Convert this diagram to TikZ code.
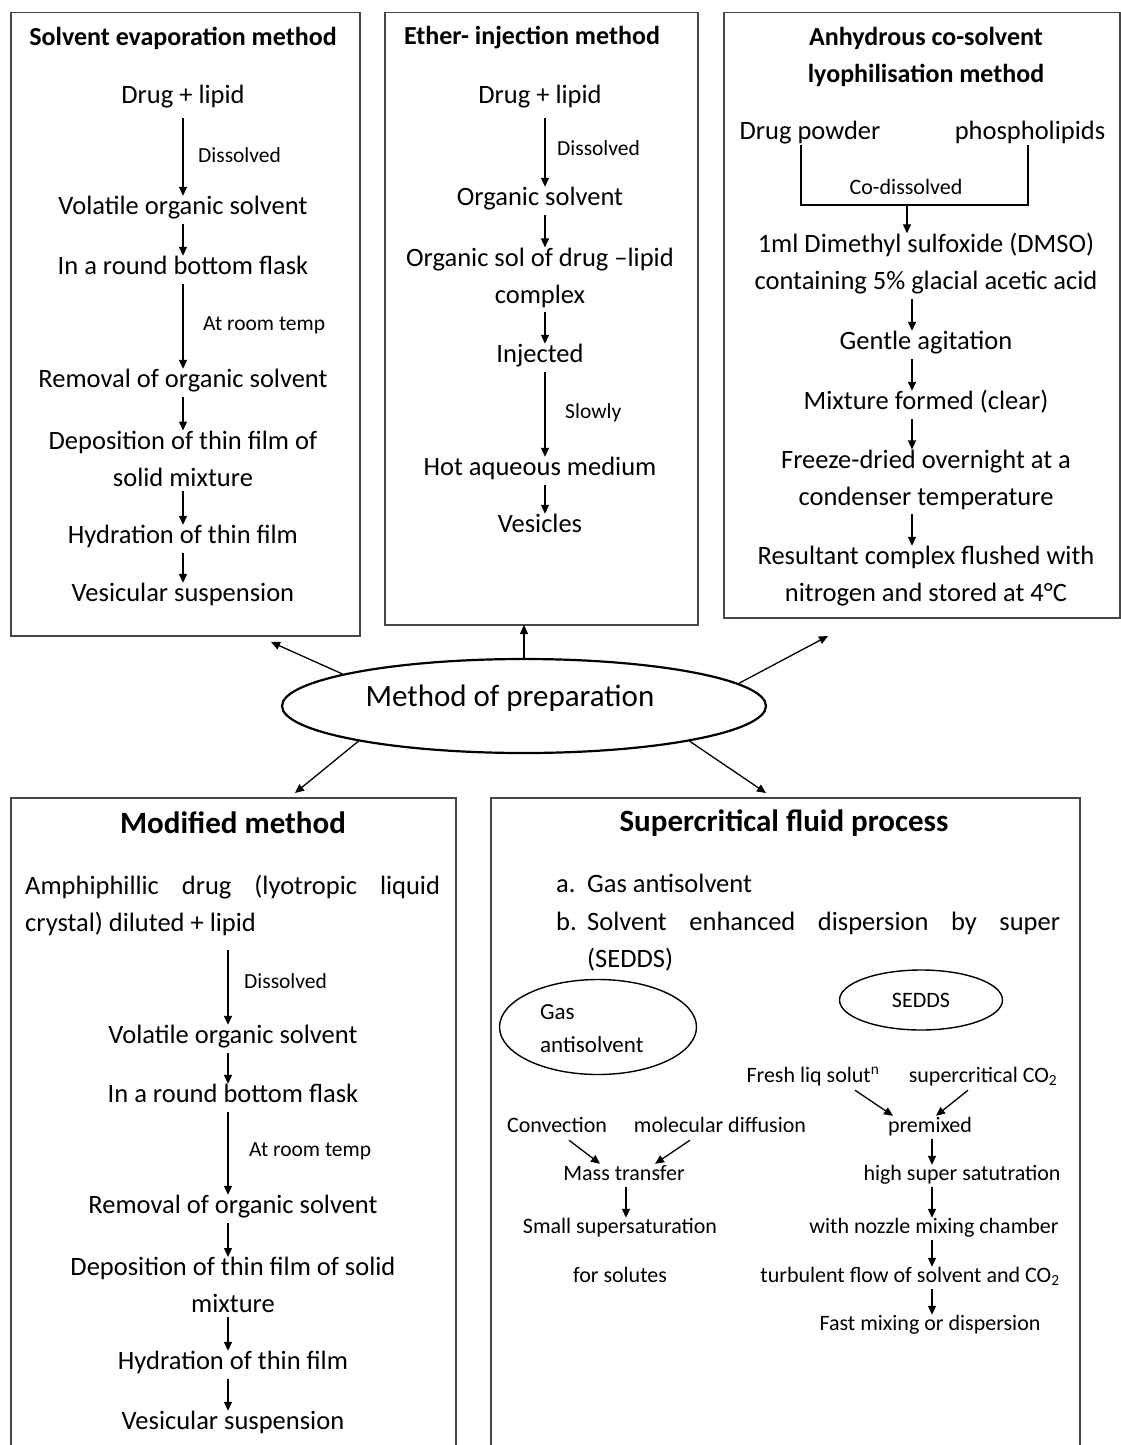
\documentclass[tikz,border=0pt]{standalone}
\usepackage{fontspec}
\setmainfont{Carlito}
\usetikzlibrary{arrows.meta,shapes.geometric,calc}
\begin{document}
\begin{tikzpicture}[x=1pt,y=-1pt,
 box/.style={draw=black!72,line width=1.5pt,inner sep=0pt,anchor=north west},
 tx/.style={font=\fontsize{26.5}{37}\selectfont,inner sep=0pt,text height=18pt,text depth=6pt},
 tx2/.style={font=\fontsize{26.5}{37}\selectfont,inner sep=0pt,align=center},
 ttl/.style={font=\bfseries\fontsize{26}{37}\selectfont,inner sep=0pt,align=center},
 big/.style={font=\bfseries\fontsize{31}{36}\selectfont,inner sep=0pt},
 lbl/.style={font=\fontsize{21.5}{26}\selectfont,inner sep=0pt,anchor=west},
 sm/.style={font=\fontsize{22}{26}\selectfont,inner sep=0pt,text height=15pt,text depth=5pt},
 arr/.style={-{Triangle[length=9pt,width=8pt]},line width=1.3pt,shorten <=4pt},
 oval/.style={draw,ellipse,inner sep=0pt},
]
\useasboundingbox (0,0) rectangle (1121,1445);
\fill[white] (0,0) rectangle (1121,1445);

% ---------- boxes ----------
\node[box,minimum width=349,minimum height=623] (B1) at (10,12) {};
\node[box,minimum width=313,minimum height=612] (B2) at (384,12) {};
\node[box,minimum width=396,minimum height=605] (B3) at (723,12) {};
\node[box,minimum width=445,minimum height=680] (B4) at (10,797) {};
\node[box,minimum width=589,minimum height=680] (B5) at (490,797) {};

% ---------- Solvent evaporation ----------
\coordinate (X1) at (183,0);
\node[ttl] (t1) at (183,38) {Solvent evaporation method};
\node[tx] (a1) at (183,97) {Drug + lipid};
\node[lbl] (l1) at (198,155) {Dissolved};
\node[tx] (a2) at (183,208) {Volatile organic solvent};
\node[tx] (a3) at (183,268) {In a round bottom flask};
\node[lbl] (l2) at (203,325) {At room temp};
\node[tx] (a4) at (183,381) {Removal of organic solvent};
\node[tx2] (a5) at (183,458.5) {Deposition of thin film of\\solid mixture};
\node[tx] (a6) at (183,537) {Hydration of thin film};
\node[tx] (a7) at (183,595) {Vesicular suspension};
\draw[arr,shorten <=9pt] (a1.south -| X1) -- (a2.north -| X1);
\draw[arr] (a2.south -| X1) -- (a3.north -| X1);
\draw[arr] (a3.south -| X1) -- (a4.north -| X1);
\draw[arr] (a4.south -| X1) -- (a5.north -| X1);
\draw[arr] (a5.south -| X1) -- (a6.north -| X1);
\draw[arr] (a6.south -| X1) -- (a7.north -| X1);

% ---------- Ether injection ----------
\coordinate (X2) at (545,0);
\node[ttl] (t2) at (532,38) {Ether- injection method};
\node[tx] (b1) at (540,97) {Drug + lipid};
\node[lbl] (l3) at (557,148) {Dissolved};
\node[tx] (b2) at (540,199) {Organic solvent};
\node[tx2] (b3) at (540,277.5) {Organic sol of drug --lipid\\complex};
\node[tx] (b4) at (540,356) {Injected};
\node[lbl] (l4) at (565,413) {Slowly};
\node[tx] (b5) at (540,469) {Hot aqueous medium};
\node[tx] (b6) at (540,526) {Vesicles};
\draw[arr,shorten <=9pt] (b1.south -| X2) -- (b2.north -| X2);
\draw[arr] (b2.south -| X2) -- (b3.north -| X2);
\draw[arr] (b3.south -| X2) -- (b4.north -| X2);
\draw[arr] (b4.south -| X2) -- (b5.north -| X2);
\draw[arr] (b5.south -| X2) -- (b6.north -| X2);

% ---------- Anhydrous co-solvent ----------
\coordinate (X3) at (912,0);
\coordinate (BL) at (801,205);
\coordinate (BR) at (1028,205);
\coordinate (BM) at (907,205);
\node[ttl] (t3) at (926,56.5) {Anhydrous co-solvent\\lyophilisation method};
\node[tx] (c1) at (810,133) {Drug powder};
\node[tx] (c2) at (1030,133) {phospholipids};
\node[sm] (l5) at (906,189) {Co-dissolved};
\node[tx2] (c3) at (926,264) {1ml Dimethyl sulfoxide (DMSO)\\containing 5\% glacial acetic acid};
\node[tx] (c4) at (926,343) {Gentle agitation};
\node[tx] (c5) at (926,403) {Mixture formed (clear)};
\node[tx2] (c6) at (926,479.5) {Freeze-dried overnight at a\\condenser temperature};
\node[tx2] (c7) at (926,576) {Resultant complex flushed with\\nitrogen and stored at 4\textdegree C};
\draw[line width=1.3pt] (c1.south -| BL) -- (BL) -- (BR) -- (c2.south -| BR);
\draw[arr,shorten <=0pt] (BM) -- (c3.north -| BM);
\draw[arr] (c3.south -| X3) -- (c4.north -| X3);
\draw[arr] (c4.south -| X3) -- (c5.north -| X3);
\draw[arr] (c5.south -| X3) -- (c6.north -| X3);
\draw[arr] (c6.south -| X3) -- (c7.north -| X3);

% ---------- central ellipse ----------
\node[oval,line width=2.2pt,minimum width=484,minimum height=94] (E) at (524,706) {};
\node[font=\fontsize{31}{36}\selectfont,inner sep=0pt] (mt) at (510,698) {Method of preparation};
\coordinate (q1) at (271,642);
\coordinate (q2) at (524,625);
\coordinate (q3) at (828,636);
\coordinate (q4) at (295,793);
\coordinate (q5) at (766,793);
\draw[arr,shorten <=0pt] (E.170) -- (q1);
\draw[arr,shorten <=0pt] (E.north) -- (q2);
\draw[arr,shorten <=0pt] (E.6) -- (q3);
\draw[arr,shorten <=0pt] (E.192) -- (q4);
\draw[arr,shorten <=0pt] (E.348) -- (q5);

% ---------- Modified method ----------
\coordinate (X4) at (228,0);
\node[big] (t4) at (233,823) {Modified method};
\node[tx2,align=left,anchor=west] (d0) at (25,905) {\hbox to 415pt{Amphiphillic\hfill drug\hfill (lyotropic\hfill liquid}\\crystal) diluted + lipid};
\node[lbl] (l6) at (244,981) {Dissolved};
\node[tx] (d1) at (233,1037) {Volatile organic solvent};
\node[tx] (d2) at (233,1096) {In a round bottom flask};
\node[lbl] (l7) at (249,1151) {At room temp};
\node[tx] (d3) at (233,1207) {Removal of organic solvent};
\node[tx2] (d4) at (233,1285) {Deposition of thin film of solid\\mixture};
\node[tx] (d5) at (233,1363) {Hydration of thin film};
\node[tx] (d6) at (233,1423) {Vesicular suspension};
\draw[arr,shorten <=14pt] (d0.south -| X4) -- (d1.north -| X4);
\draw[arr] (d1.south -| X4) -- (d2.north -| X4);
\draw[arr] (d2.south -| X4) -- (d3.north -| X4);
\draw[arr] (d3.south -| X4) -- (d4.north -| X4);
\draw[arr] (d4.south -| X4) -- (d5.north -| X4);
\draw[arr] (d5.south -| X4) -- (d6.north -| X4);

% ---------- Supercritical fluid process ----------
\node[big] (t5) at (784,823) {Supercritical fluid process};
\node[tx,anchor=west] (e1) at (556,886) {\makebox[31pt][l]{a.}Gas antisolvent};
\node[tx,anchor=west] (e2) at (556,924) {\makebox[31pt][l]{b.}\hbox to 473pt{Solvent\hfill enhanced\hfill dispersion\hfill by\hfill super}};
\node[tx,anchor=west] (e3) at (587,961) {(SEDDS)};
\node[oval,line width=1.4pt,minimum width=197,minimum height=95] (G) at (598,1027) {};
\node[font=\fontsize{23}{33}\selectfont,inner sep=0pt,align=left,anchor=west] (gt) at (540,1028.5) {Gas\\antisolvent};
\node[oval,line width=1.4pt,minimum width=163,minimum height=60,font=\fontsize{22}{26}\selectfont] (S) at (921,1000) {SEDDS};

\coordinate (X5) at (626,0);
\coordinate (X6) at (932,0);
\node[sm] (f1) at (813,1077) {Fresh liq solut\textsuperscript{n}};
\node[sm] (f2) at (983,1077) {supercritical CO\textsubscript{2}};
\node[sm] (f3) at (930,1127) {premixed};
\node[sm] (g1) at (557,1127) {Convection};
\node[sm] (g2) at (720,1127) {molecular diffusion};
\node[sm] (g3) at (624,1175) {Mass transfer};
\node[sm] (g4) at (620,1228) {Small supersaturation};
\node[sm] (g5) at (620,1277) {for solutes};
\node[sm] (f4) at (962,1175) {high super satutration};
\node[sm] (f5) at (934,1228) {with nozzle mixing chamber};
\node[sm] (f6) at (910,1277) {turbulent flow of solvent and CO\textsubscript{2}};
\node[sm] (f7) at (930,1325) {Fast mixing or dispersion};
\draw[arr,shorten <=0pt] ($(f1.south)+(42,3)$) -- ($(f3.north)+(-37,-1)$);
\draw[arr,shorten <=0pt] ($(f2.south)+(-15,3)$) -- ($(f3.north)+(6,-1)$);
\draw[arr,shorten <=0pt] ($(g1.south)+(12,3)$) -- ($(g3.north)+(-24,-1)$);
\draw[arr,shorten <=0pt] ($(g2.south)+(-30,3)$) -- ($(g3.north)+(31,-1)$);
\draw[arr,shorten <=2pt] (g3.south -| X5) -- (g4.north -| X5);
\draw[arr,shorten <=2pt] (f3.south -| X6) -- (f4.north -| X6);
\draw[arr,shorten <=2pt] (f4.south -| X6) -- (f5.north -| X6);
\draw[arr,shorten <=2pt] (f5.south -| X6) -- (f6.north -| X6);
\draw[arr,shorten <=2pt] (f6.south -| X6) -- (f7.north -| X6);
\end{tikzpicture}
\end{document}
